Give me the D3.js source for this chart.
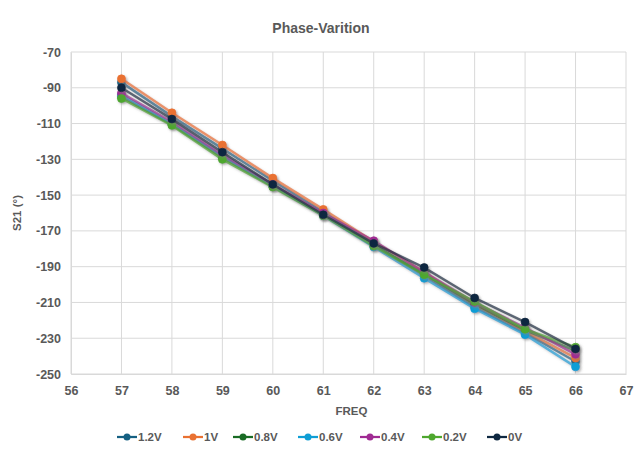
<!DOCTYPE html>
<html>
<head>
<meta charset="utf-8">
<script src="https://cdn.jsdelivr.net/npm/d3@7"></script>
<style>
  html, body { margin: 0; padding: 0; background: #ffffff; }
  svg text { font-family: "Liberation Sans", Arial, sans-serif; font-weight: bold; fill: #595959; }
</style>
</head>
<body>
<svg id="chart" width="635" height="456"></svg>
<script>
// Frequency points (GHz) and the S21 phase of each bias setting
const freq = [57, 58, 59, 60, 61, 62, 63, 64, 65, 66];
const seriesNames = ["1.2V", "1V", "0.8V", "0.6V", "0.4V", "0.2V", "0V"];
const seriesColors = ["#156082", "#E97132", "#196B24", "#0F9ED5", "#A02B93", "#4EA72E", "#0E2841"];

const v1_2 = [-87, -106, -124, -142, -159.5, -177.5, -195, -212.5, -227, -243];
const v1_0 = [-85, -104, -122, -140.5, -158, -176, -193, -211, -226, -241];
const v0_8 = [-95, -110.5, -129, -145, -161, -178, -194, -211, -225.5, -237];
const v0_6 = [-94, -110, -128, -145, -161.5, -179, -196.5, -213.5, -228, -246];
const v0_4 = [-93, -109, -127.5, -144, -160, -175.5, -193, -210, -224, -239];
const v0_2 = [-96, -111, -130, -145.5, -161.5, -178.5, -194.5, -209.5, -225, -235];
const v0_0 = [-90, -107.5, -126, -144, -161, -177, -190.5, -207.5, -221, -236];

const xTicks = [56, 57, 58, 59, 60, 61, 62, 63, 64, 65, 66, 67];
const yTicks = [-70, -90, -110, -130, -150, -170, -190, -210, -230, -250];

const seriesValues = [v1_2, v1_0, v0_8, v0_6, v0_4, v0_2, v0_0];

const svg = d3.select("#chart");
const plot = { left: 71, right: 626, top: 52, bottom: 374 };

const x = d3.scaleLinear().domain([56, 67]).range([plot.left, plot.right]);
const y = d3.scaleLinear().domain([-250, -70]).range([plot.bottom, plot.top]);

// Soft drop shadow under the series lines
const defs = svg.append("defs");
const shadow = defs.append("filter").attr("id", "lineShadow")
  .attr("x", "-5%").attr("y", "-5%").attr("width", "110%").attr("height", "110%");
shadow.append("feDropShadow").attr("dx", 1.5).attr("dy", 1.5).attr("stdDeviation", 1.2)
  .attr("flood-color", "#808080").attr("flood-opacity", 0.55);

// Gridlines
svg.append("g").selectAll("line").data(yTicks).join("line")
  .attr("x1", plot.left).attr("x2", plot.right)
  .attr("y1", d => y(d)).attr("y2", d => y(d))
  .attr("stroke", "#d9d9d9").attr("stroke-width", 1);
svg.append("g").selectAll("line").data(xTicks).join("line")
  .attr("x1", d => x(d)).attr("x2", d => x(d))
  .attr("y1", plot.top).attr("y2", plot.bottom)
  .attr("stroke", "#d9d9d9").attr("stroke-width", 1);

// Axes (labels only, the grid carries the lines)
const fmt = d => String(d);
const xAxis = svg.append("g")
  .attr("transform", `translate(0,${plot.bottom})`)
  .call(d3.axisBottom(x).tickValues(xTicks).tickFormat(fmt).tickSize(0).tickPadding(12));
xAxis.select(".domain").attr("stroke", "#d9d9d9");
xAxis.selectAll("text").attr("font-size", 12.5).attr("fill", "#595959");

const yAxis = svg.append("g")
  .attr("transform", `translate(${plot.left},0)`)
  .call(d3.axisLeft(y).tickValues(yTicks).tickFormat(fmt).tickSize(0).tickPadding(10));
yAxis.select(".domain").attr("stroke", "#d9d9d9");
yAxis.selectAll("text").attr("font-size", 12.5).attr("fill", "#595959");

// Titles
svg.append("text").attr("x", 321).attr("y", 33).attr("text-anchor", "middle")
  .attr("font-size", 14).text("Phase-Varition");
svg.append("text").attr("x", (plot.left + plot.right) / 2 + 3).attr("y", 415).attr("text-anchor", "middle")
  .attr("font-size", 11.5).text("FREQ");
svg.append("text").attr("transform", "translate(21,213) rotate(-90)").attr("text-anchor", "middle")
  .attr("font-size", 11.5).text("S21 (°)");

// Series lines and markers
const line = d3.line().x((d, i) => x(freq[i])).y(d => y(d));
seriesValues.forEach((vals, k) => {
  const g = svg.append("g").attr("filter", "url(#lineShadow)");
  g.append("path").datum(vals).attr("d", line)
    .attr("fill", "none").attr("stroke", seriesColors[k])
    .attr("stroke-width", 2.5).attr("stroke-opacity", 0.7);
  g.selectAll("circle").data(vals).join("circle")
    .attr("cx", (d, i) => x(freq[i])).attr("cy", d => y(d)).attr("r", 4)
    .attr("fill", seriesColors[k]).attr("stroke", seriesColors[k]).attr("stroke-width", 0.75);
});

// Legend
const legendX = [127, 193, 243, 308, 370, 432, 497];
const legend = svg.append("g");
seriesNames.forEach((name, k) => {
  const cx = legendX[k];
  legend.append("line").attr("x1", cx - 10).attr("x2", cx + 10).attr("y1", 437).attr("y2", 437)
    .attr("stroke", seriesColors[k]).attr("stroke-width", 2.25);
  legend.append("circle").attr("cx", cx).attr("cy", 437).attr("r", 3.5).attr("fill", seriesColors[k]);
  legend.append("text").attr("x", cx + 11).attr("y", 441).attr("font-size", 11.5).text(name);
});
</script>
</body>
</html>
